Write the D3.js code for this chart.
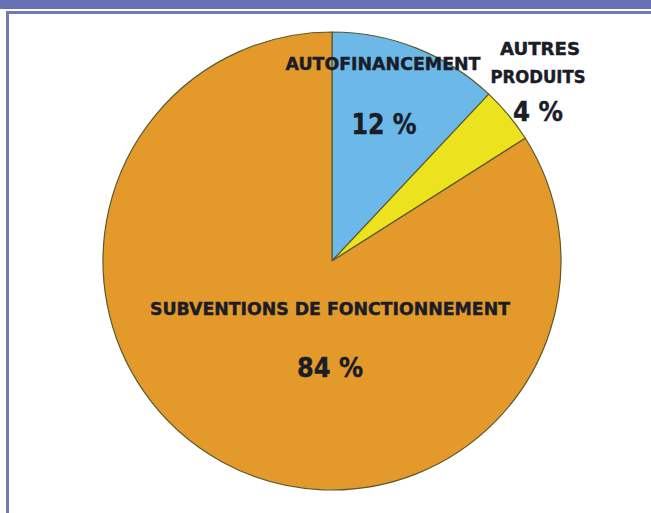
<!DOCTYPE html>
<html><head><meta charset="utf-8">
<script src="https://cdn.jsdelivr.net/npm/d3@7"></script>
<style>html,body{margin:0;padding:0;background:#fff;}svg{display:block;}</style>
</head><body>
<script>
const categories = ["AUTOFINANCEMENT", "AUTRES PRODUITS", "SUBVENTIONS DE FONCTIONNEMENT"];
const values = [12, 4, 84];
const valueLabels = ["12 %", "4 %", "84 %"];
const colors = ["#6cb9e9", "#ece31e", "#e39a2b"];

const W = 651, H = 513;
const svg = d3.select("body").append("svg").attr("width", W).attr("height", H);

// frame
svg.append("rect").attr("x", 0).attr("y", 0).attr("width", W).attr("height", 9).attr("fill", "#6670b2");
svg.append("rect").attr("x", 6).attr("y", 11).attr("width", W - 6).attr("height", 3).attr("fill", "#7078c0");
svg.append("rect").attr("x", 6).attr("y", 11).attr("width", 3).attr("height", H - 11).attr("fill", "#7078c0");

const cx = 332, cy = 261, r = 229;
const pie = d3.pie().sort(null).value(d => d)(values);
const arc = d3.arc().innerRadius(0).outerRadius(r);
const g = svg.append("g").attr("transform", `translate(${cx},${cy})`);
g.selectAll("path").data(pie).join("path")
  .attr("d", arc)
  .attr("fill", (d, i) => colors[i])
  .attr("stroke", "#5a5a30")
  .attr("stroke-width", 1.2)
  .attr("stroke-linejoin", "round");

const font = "'DejaVu Sans Condensed', 'DejaVu Sans', sans-serif";
const ink = "#1a1c28";
function label(x, y, txt, size, len) {
  const t = svg.append("text").attr("x", x).attr("y", y).attr("text-anchor", "middle")
    .attr("font-family", font).attr("font-weight", "bold").attr("font-size", size)
    .attr("fill", ink).attr("stroke", ink).attr("stroke-width", 0.4).text(txt);
  if (len) t.attr("textLength", len).attr("lengthAdjust", "spacingAndGlyphs");
  return t;
}
label(383, 70, categories[0], 17.5, 195);
const ap = categories[1].split(" ");
label(540, 55, ap[0], 17, 80);
label(538, 83, ap[1], 17, 95);
label(384, 134, valueLabels[0], 28, 65);
label(538, 121, valueLabels[1], 27, 50);
label(330, 315, categories[2], 17, 360);
label(330, 377, valueLabels[2], 27, 66);
</script>
</body></html>
